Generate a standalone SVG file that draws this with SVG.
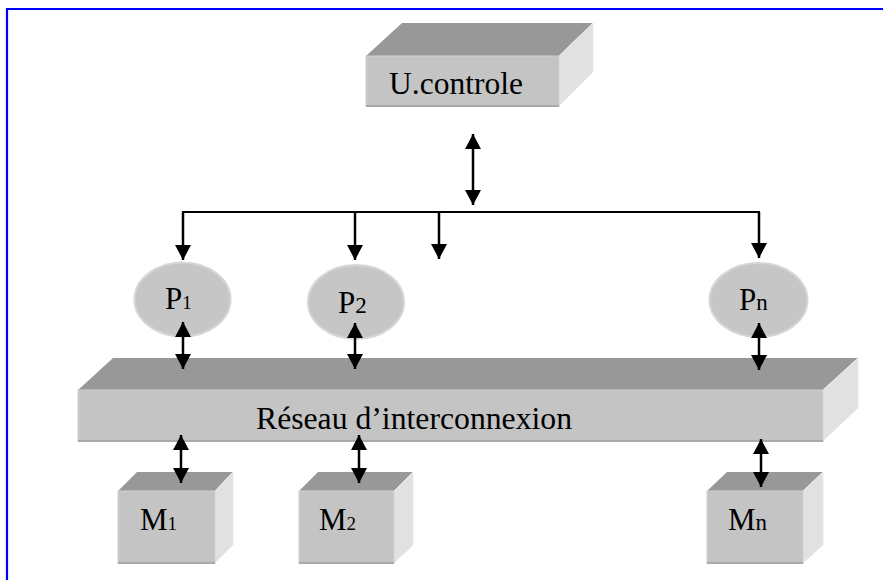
<svg xmlns="http://www.w3.org/2000/svg" width="883" height="580" viewBox="0 0 883 580">
  <style>
    .top { fill: #989898; }
    .front { fill: #c4c4c4; stroke: #cfcfcf; stroke-width: 1; }
    .side { fill: #e1e1e1; stroke: #ebebeb; stroke-width: 1; }
    .base { stroke: #a9a9a9; stroke-width: 2; }
    .proc { fill: #c6c6c6; stroke: #d6d6d6; stroke-width: 2; }
    .lbl { font-family: "Liberation Serif", "Times New Roman", serif; fill: #000; font-size: 31px; }
    .s19 { font-size: 19px; }
    .s23 { font-size: 23px; }
    .wire { stroke: #000; stroke-width: 2.5; fill: none; }
    .bus { stroke: #000; stroke-width: 2; fill: none; }
  </style>
  <defs>
    <marker id="head" viewBox="0 0 15 16" markerWidth="15" markerHeight="16" refX="15" refY="8" orient="auto-start-reverse" markerUnits="userSpaceOnUse">
      <path d="M0,0 L15,8 L0,16 Z" fill="#000"/>
    </marker>
  </defs>

  <rect width="883" height="580" fill="#fff"/>
  <!-- frame -->
  <path d="M7,580 V9 H883" fill="none" stroke="#0000ff" stroke-width="2.2"/>

  <!-- control unit -->
  <g id="ucontrole">
    <polygon class="top" points="366,56 402,23 593,23 559,56"/>
    <polygon class="side" points="559,56 593,23 593,72 559,106"/>
    <rect class="front" x="366" y="56" width="193" height="50"/>
    <line class="base" x1="366" y1="106" x2="559" y2="106"/>
    <text class="lbl" x="389" y="94" textLength="134" lengthAdjust="spacingAndGlyphs">U.controle</text>
  </g>

  <!-- processors -->
  <g id="p1">
    <ellipse class="proc" cx="182.5" cy="299.5" rx="48" ry="37"/>
    <text class="lbl" x="165" y="309">P<tspan class="s19">1</tspan></text>
  </g>
  <g id="p2">
    <ellipse class="proc" cx="356" cy="302" rx="48" ry="37"/>
    <text class="lbl" x="338" y="313">P<tspan class="s23">2</tspan></text>
  </g>
  <g id="pn">
    <ellipse class="proc" cx="758.5" cy="300" rx="49" ry="37"/>
    <text class="lbl" x="739" y="310">P<tspan class="s23">n</tspan></text>
  </g>

  <!-- interconnection network -->
  <g id="reseau">
    <polygon class="top" points="78,390 113,358 858,358 823,390"/>
    <polygon class="side" points="823,390 858,358 858,408 823,441"/>
    <rect class="front" x="78" y="390" width="745" height="51"/>
    <line class="base" x1="78" y1="441" x2="823" y2="441"/>
    <text class="lbl" x="256" y="429" textLength="316" lengthAdjust="spacingAndGlyphs">Réseau d’interconnexion</text>
  </g>

  <!-- memories -->
  <g id="m1">
    <polygon class="top" points="118,491 137,472 233,472 215,491"/>
    <polygon class="side" points="215,491 233,472 233,545 215,563"/>
    <rect class="front" x="118" y="491" width="97" height="72"/>
    <line class="base" x1="118" y1="563" x2="215" y2="563"/>
    <text class="lbl" x="140" y="530">M<tspan class="s19">1</tspan></text>
  </g>
  <g id="m2">
    <polygon class="top" points="299,491 318,472 413,472 394,491"/>
    <polygon class="side" points="394,491 413,472 413,545 394,563"/>
    <rect class="front" x="299" y="491" width="95" height="72"/>
    <line class="base" x1="299" y1="563" x2="394" y2="563"/>
    <text class="lbl" x="319" y="530">M<tspan class="s19">2</tspan></text>
  </g>
  <g id="mn">
    <polygon class="top" points="707,491 727,472 823,472 803,491"/>
    <polygon class="side" points="803,491 823,472 823,545 803,563"/>
    <rect class="front" x="707" y="491" width="96" height="72"/>
    <line class="base" x1="707" y1="563" x2="803" y2="563"/>
    <text class="lbl" x="728" y="530">M<tspan class="s23">n</tspan></text>
  </g>

  <!-- connectors -->
  <g id="connectors">
    <line class="wire" x1="473" y1="134" x2="473" y2="205" marker-start="url(#head)" marker-end="url(#head)"/>
    <polyline class="bus" points="183,260 183,212 759,212 759,258"/>
    <line class="wire" x1="183" y1="212" x2="183" y2="260" marker-end="url(#head)"/>
    <line class="wire" x1="355" y1="212" x2="355" y2="260" marker-end="url(#head)"/>
    <line class="wire" x1="439" y1="212" x2="439" y2="259" marker-end="url(#head)"/>
    <line class="wire" x1="759" y1="212" x2="759" y2="258" marker-end="url(#head)"/>
    <line class="wire" x1="183" y1="322" x2="183" y2="369" marker-start="url(#head)" marker-end="url(#head)"/>
    <line class="wire" x1="355" y1="323" x2="355" y2="369" marker-start="url(#head)" marker-end="url(#head)"/>
    <line class="wire" x1="759" y1="323" x2="759" y2="370" marker-start="url(#head)" marker-end="url(#head)"/>
    <line class="wire" x1="181" y1="435" x2="181" y2="483" marker-start="url(#head)" marker-end="url(#head)"/>
    <line class="wire" x1="359" y1="435" x2="359" y2="483" marker-start="url(#head)" marker-end="url(#head)"/>
    <line class="wire" x1="761" y1="439" x2="761" y2="487" marker-start="url(#head)" marker-end="url(#head)"/>
  </g>
</svg>
